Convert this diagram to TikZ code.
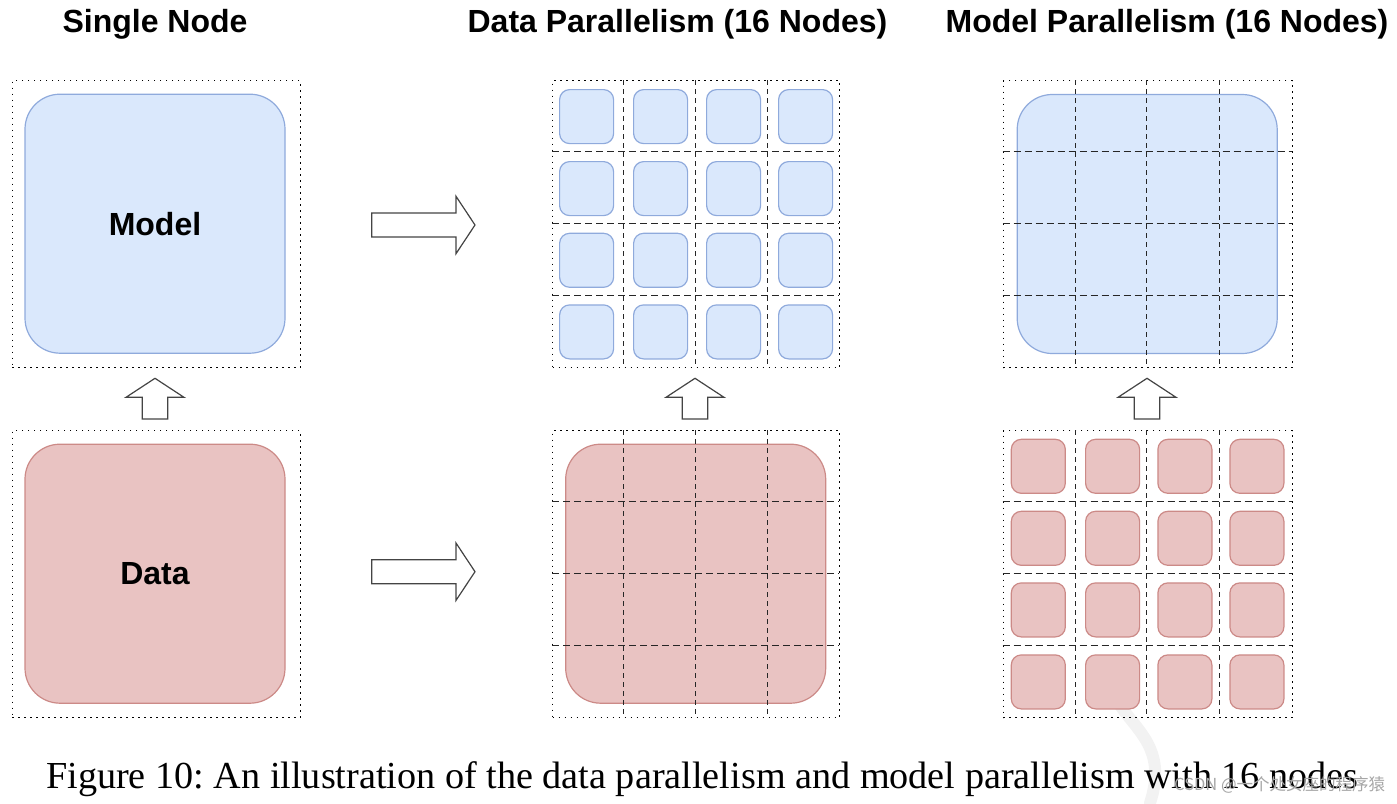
\documentclass[tikz,border=0pt]{standalone}
\usepackage{fontspec}
\setmainfont{Liberation Serif}
\newfontfamily\headfont{Liberation Sans}
\newfontfamily\cjk{Noto Sans CJK SC}
\definecolor{bluefill}{HTML}{DAE8FC}
\definecolor{bluestroke}{HTML}{8FAADC}
\definecolor{redfill}{HTML}{E9C3C2}
\definecolor{redstroke}{HTML}{CC8A87}
\definecolor{arrowline}{HTML}{444444}
\definecolor{swoosh}{HTML}{F2F2F2}
\begin{document}
\frenchspacing
\begin{tikzpicture}[x=1pt,y=-1pt,
  title/.style={font=\headfont\fontsize{32}{36}\selectfont\bfseries, anchor=base, inner sep=0},
  bigblue/.style={draw=bluestroke, fill=bluefill, line width=1.2pt, rounded corners=35pt, minimum width=260pt, minimum height=259pt, inner sep=0, font=\headfont\fontsize{32}{36}\selectfont\bfseries},
  bigred/.style={draw=redstroke, fill=redfill, line width=1.2pt, rounded corners=35pt, minimum width=260pt, minimum height=259pt, inner sep=0, font=\headfont\fontsize{32}{36}\selectfont\bfseries},
  smallblue/.style={draw=bluestroke, fill=bluefill, line width=1.2pt, rounded corners=10pt, minimum width=54pt, minimum height=54pt, inner sep=0, anchor=north west},
  smallred/.style={draw=redstroke, fill=redfill, line width=1.2pt, rounded corners=10pt, minimum width=54pt, minimum height=54pt, inner sep=0, anchor=north west},
  outerbox/.style={draw=black, line width=1.4pt, dash pattern=on 1.6pt off 4.4pt, minimum width=#1, minimum height=287pt, inner sep=0, anchor=north west},
  hgrid/.style={draw=black!85, line width=1.2pt, dash pattern=on 7pt off 4pt},
  vgrid/.style={draw=black!85, line width=1.2pt, dash pattern=on 4.5pt off 4.5pt},
  blockarrow/.style={draw=arrowline, fill=white, line width=1.2pt, line join=miter},
  rarr/.pic={\path[blockarrow] (-51.6,-12) -- (32.7,-12) -- (32.7,-28.7) -- (51.7,0) -- (32.7,28.7) -- (32.7,12) -- (-51.6,12) -- cycle;},
  uarr/.pic={\path[blockarrow] (0,-20.4) -- (29,-1.4) -- (12.7,-1.4) -- (12.7,20.3) -- (-12.7,20.3) -- (-12.7,-1.4) -- (-29,-1.4) -- cycle;}
]
\useasboundingbox (0,0) rectangle (1397,803);

% ---------- watermark swoosh (behind everything) ----------
\draw[swoosh, line width=12pt, line cap=round] (1118,702) .. controls (1135,730) and (1168,748) .. (1150,803);

% titles
\node[title] (t1) at (155,32) {Single Node};
\node[title] (t2) at (677.5,32) {Data Parallelism (16 Nodes)};
\node[title] (t3) at (1167,32) {Model Parallelism (16 Nodes)};

% ---------- single node ----------
\node[outerbox=288pt] (sbox1) at (11.5,80) {};
\node[bigblue] (model) at (155,223.7) {Model};
\node[outerbox=288pt] (sbox2) at (11.5,430) {};
\node[bigred] (data) at (155,573.7) {Data};

% ---------- data parallelism ----------
\foreach \c/\x in {1/559,2/633,3/706,4/778}{
  \foreach \r/\y in {1/89,2/161,3/232.7,4/304.3}{
    \node[smallblue] (dm\r\c) at (\x,\y) {};
  }
}
\node[outerbox=287pt] (dbox1) at (552,80) {};
\foreach \x in {623.7,695.5,767.3}{ \draw[vgrid] (\x,80) -- (\x,367); }
\foreach \y in {151.7,223.5,295.3}{ \draw[hgrid] (552,\y) -- (839,\y); }

\node[bigred] (ddata) at (695.7,573.7) {};
\node[outerbox=287pt] (dbox2) at (552,430) {};
\foreach \x in {623.7,695.5,767.3}{ \draw[vgrid] (\x,430) -- (\x,717); }
\foreach \y in {501.7,573.5,645.3}{ \draw[hgrid] (552,\y) -- (839,\y); }

% ---------- model parallelism ----------
\node[bigblue] (mmodel) at (1147.2,224) {};
\node[outerbox=289pt] (mbox1) at (1002.7,80) {};
\foreach \x in {1075.7,1146.7,1219.2}{ \draw[vgrid] (\x,80) -- (\x,367); }
\foreach \y in {151.7,223.5,295.3}{ \draw[hgrid] (1002.7,\y) -- (1291.7,\y); }

\foreach \c/\x in {1/1010.7,2/1085,3/1157.3,4/1229.3}{
  \foreach \r/\y in {1/438.7,2/510.7,3/582.3,4/654.3}{
    \node[smallred] (md\r\c) at (\x,\y) {};
  }
}
\node[outerbox=289pt] (mbox2) at (1002.7,430) {};
\foreach \x in {1075.7,1146.7,1219.2}{ \draw[vgrid] (\x,430) -- (\x,717); }
\foreach \y in {501.7,573.5,645.3}{ \draw[hgrid] (1002.7,\y) -- (1291.7,\y); }

% ---------- block arrows ----------
\coordinate (ra1) at (423.3,225);
\coordinate (ra2) at (423.3,571.7);
\pic at (ra1) {rarr};
\pic at (ra2) {rarr};
\coordinate (ua1) at (155,398.7);
\coordinate (ua2) at (695,398.7);
\coordinate (ua3) at (1147,398.7);
\pic at (ua1) {uarr};
\pic at (ua2) {uarr};
\pic at (ua3) {uarr};

% ---------- caption ----------
\node[anchor=base west, inner sep=0, font=\fontsize{38.2}{41}\selectfont] (cap) at (46,788) {Figure 10: An illustration of the data parallelism and model parallelism with 16 nodes};
\node[anchor=base west, inner sep=0, text=black!35, font=\cjk\fontsize{16.5}{20}\selectfont] (wm) at (1174,790) {CSDN @一个处女座的程序猿};
\end{tikzpicture}
\end{document}
